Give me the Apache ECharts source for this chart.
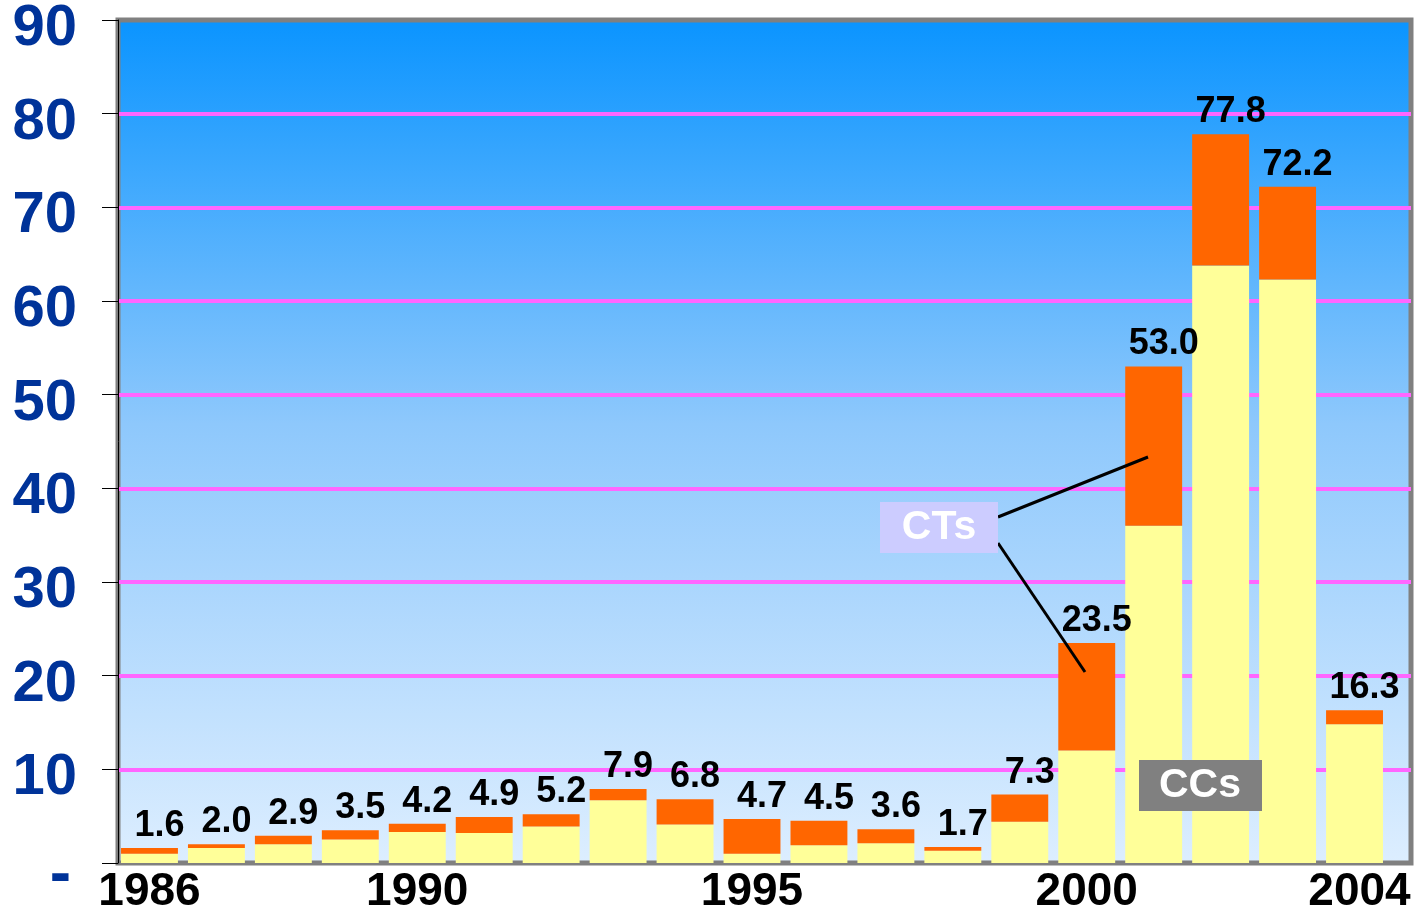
<!DOCTYPE html>
<html>
<head>
<meta charset="utf-8">
<script src="https://cdn.jsdelivr.net/npm/echarts@6/dist/echarts.min.js"></script>
<style>
  html, body { margin: 0; padding: 0; background: #ffffff; }
  #chart { width: 1415px; height: 911px; }
</style>
</head>
<body>
<div id="chart"></div>
<script>
const years = ['1986','1987','1988','1989','1990','1991','1992','1993','1994','1995','1996','1997','1998','1999','2000','2001','2002','2003','2004'];
const shownYears = ['1986','1990','1995','2000','2004'];
const totals = [1.6, 2.0, 2.9, 3.5, 4.2, 4.9, 5.2, 7.9, 6.8, 4.7, 4.5, 3.6, 1.7, 7.3, 23.5, 53.0, 77.8, 72.2, 16.3];
const ccValues = [1.0, 1.6, 2.0, 2.5, 3.3, 3.2, 3.9, 6.7, 4.1, 1.0, 1.9, 2.1, 1.3, 4.4, 12.0, 36.0, 63.8, 62.3, 14.8];
const ctValues = totals.map((t, i) => Math.round((t - ccValues[i]) * 10) / 10);
const yTicks = [0, 10, 20, 30, 40, 50, 60, 70, 80, 90];

const ARIAL = '"Liberation Sans", Arial, sans-serif';
const chart = echarts.init(document.getElementById('chart'));
chart.setOption({
  animation: false,
  backgroundColor: '#ffffff',
  grid: [
    {
      left: 118, right: 4, top: 20, bottom: 48,
      outerBoundsMode: 'none',
      containLabel: false,
      show: true,
      borderColor: '#808080',
      borderWidth: 5,
      backgroundColor: new echarts.graphic.LinearGradient(0, 0, 0, 1, [
        { offset: 0, color: '#0a94ff' },
        { offset: 0.48, color: '#8ec8fc' },
        { offset: 1, color: '#ddeeff' }
      ])
    },
    {
      left: 116, right: 27, top: 20, bottom: 48,
      outerBoundsMode: 'none',
      containLabel: false,
      show: false
    }
  ],
  xAxis: [
    {
      gridIndex: 0, type: 'value', min: 0, max: 1, show: false
    },
    {
      gridIndex: 1,
      type: 'category',
      data: years,
      axisLine: { show: false },
      axisTick: { show: false },
      axisLabel: {
        interval: 0,
        margin: 6,
        hideOverlap: false,
        color: '#000000',
        fontFamily: ARIAL,
        fontWeight: 'bold',
        fontSize: 46,
        formatter: v => shownYears.indexOf(v) < 0 ? '' : (v === '2004' ? '{r|' + v + '}' : v),
        rich: { r: { color: '#000000', fontFamily: ARIAL, fontWeight: 'bold', fontSize: 46, padding: [0, 0, 0, 10] } }
      }
    }
  ],
  yAxis: [
    {
      gridIndex: 0,
      type: 'value',
      min: 0, max: 90, interval: 10,
      offset: 1,
      axisLine: { show: true, lineStyle: { color: '#000000', width: 1 } },
      axisTick: { show: true, length: 16, lineStyle: { color: '#000000', width: 1 } },
      splitLine: { show: true, showMinLine: false, showMaxLine: false, lineStyle: { color: '#ff66ff', width: 4 } },
      axisLabel: {
        margin: 40,
        formatter: v => v === 0 ? '{d|-}' : '{n|' + v + '}',
        rich: {
          n: { color: '#003399', fontFamily: ARIAL, fontWeight: 'bold', fontSize: 58, padding: [18, 0, 0, 0] },
          d: { color: '#003399', fontFamily: ARIAL, fontWeight: 'bold', fontSize: 64, padding: [26, 6, 0, 0] }
        }
      }
    },
    {
      gridIndex: 1, type: 'value', min: 0, max: 90, interval: 10, show: false
    }
  ],
  series: [
    {
      name: 'CCs', type: 'bar', stack: 'a',
      xAxisIndex: 1, yAxisIndex: 1,
      data: ccValues,
      barCategoryGap: '15%',
      itemStyle: { color: '#ffff99' }
    },
    {
      name: 'CTs', type: 'bar', stack: 'a',
      xAxisIndex: 1, yAxisIndex: 1,
      data: ctValues,
      barCategoryGap: '15%',
      itemStyle: { color: '#ff6600' },
      label: {
        show: true, position: 'top', distance: 4, offset: [10, 0],
        color: '#000000', fontFamily: ARIAL, fontWeight: 'bold', fontSize: 36,
        formatter: p => totals[p.dataIndex].toFixed(1)
      }
    }
  ],
  graphic: [
    { type: 'line', shape: { x1: 998, y1: 517, x2: 1148, y2: 457 }, style: { stroke: '#000', lineWidth: 3 }, z: 100 },
    { type: 'line', shape: { x1: 998, y1: 543, x2: 1085, y2: 672 }, style: { stroke: '#000', lineWidth: 3 }, z: 100 },
    { type: 'rect', shape: { x: 880, y: 502, width: 118, height: 51 }, style: { fill: '#ccccff' }, z: 100 },
    { type: 'text', x: 939, y: 528, style: { text: 'CTs', fill: '#ffffff', font: 'bold 41px "Liberation Sans", Arial, sans-serif', textAlign: 'center', textVerticalAlign: 'middle' }, z: 101 },
    { type: 'rect', shape: { x: 1139, y: 760, width: 123, height: 51 }, style: { fill: '#808080' }, z: 100 },
    { type: 'text', x: 1200, y: 786, style: { text: 'CCs', fill: '#ffffff', font: 'bold 41px "Liberation Sans", Arial, sans-serif', textAlign: 'center', textVerticalAlign: 'middle' }, z: 101 }
  ]
});
</script>
</body>
</html>
